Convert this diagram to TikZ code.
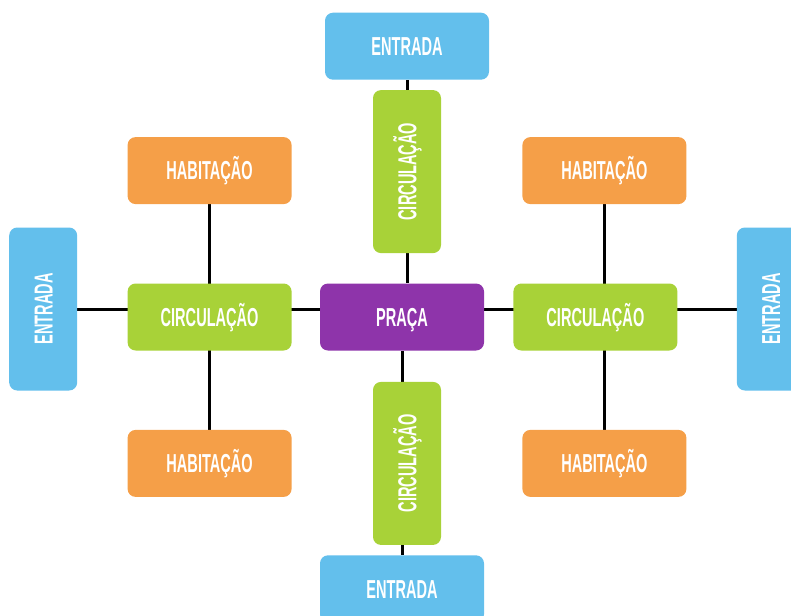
\documentclass[tikz,border=0pt]{standalone}
\usepackage{fontspec}
\setmainfont{Liberation Sans}[FakeStretch=0.56]
\usetikzlibrary{positioning,backgrounds}
\definecolor{entblue}{HTML}{63BFEC}
\definecolor{circgreen}{HTML}{A8D238}
\definecolor{habor}{HTML}{F59F48}
\definecolor{prpurple}{HTML}{8E34AA}
\newcommand\vtxt[1]{\rotatebox{90}{\raisebox{0pt}[18.6pt][0pt]{#1}}}
\begin{document}
\begin{tikzpicture}[x=1pt,y=-1pt,
    bx/.style={rounded corners=8pt,minimum width=164pt,minimum height=67pt,
      text=white,font=\fontsize{26}{30}\selectfont\bfseries,inner sep=0pt,
      text height=18.6pt,text depth=0pt},
    vbx/.style={bx,minimum width=68pt,minimum height=163pt,
      text height=,text depth=},
    ent/.style={bx,fill=entblue},
    vent/.style={vbx,fill=entblue},
    circ/.style={bx,fill=circgreen},
    vcirc/.style={vbx,fill=circgreen},
    hab/.style={bx,fill=habor},
    ln/.style={line width=3pt,black}]
    \useasboundingbox (0,0) rectangle (791,615);
    \node[bx,fill=prpurple] (pr) at (402,317) {PRAÇA};
    \node[circ,left=28pt of pr] (cl) {CIRCULAÇÃO};
    \node[circ,right=29pt of pr] (cr) {CIRCULAÇÃO};
    \node[vcirc,above=30pt of pr,xshift=5pt] (ct) {\vtxt{CIRCULAÇÃO}};
    \node[vcirc,below=31pt of pr,xshift=5pt] (cb) {\vtxt{CIRCULAÇÃO}};
    \node[ent,above=10pt of ct] (et) {ENTRADA};
    \node[ent,below=10pt of cb,xshift=-5pt] (eb) {ENTRADA};
    \node[vent,left=50pt of cl,yshift=8pt] (el) {\vtxt{ENTRADA}};
    \node[vent,right=59pt of cr,yshift=8pt] (er) {\vtxt{ENTRADA}};
    \node[hab,above=79pt of cl] (htl) {HABITAÇÃO};
    \node[hab,below=79pt of cl] (hbl) {HABITAÇÃO};
    \node[hab,above=79pt of cr,xshift=9pt] (htr) {HABITAÇÃO};
    \node[hab,below=79pt of cr,xshift=9pt] (hbr) {HABITAÇÃO};
    \begin{scope}[on background layer]
      \draw[ln] (el.east)--(er.west);
      \draw[ln] (htl)--(hbl);
      \draw[ln] (htr)--(hbr);
      \draw[ln] (et.south)--(et.south |- pr.north);
      \draw[ln] (eb.north)--(eb.north |- pr.south);
    \end{scope}
  \end{tikzpicture}
\end{document}
